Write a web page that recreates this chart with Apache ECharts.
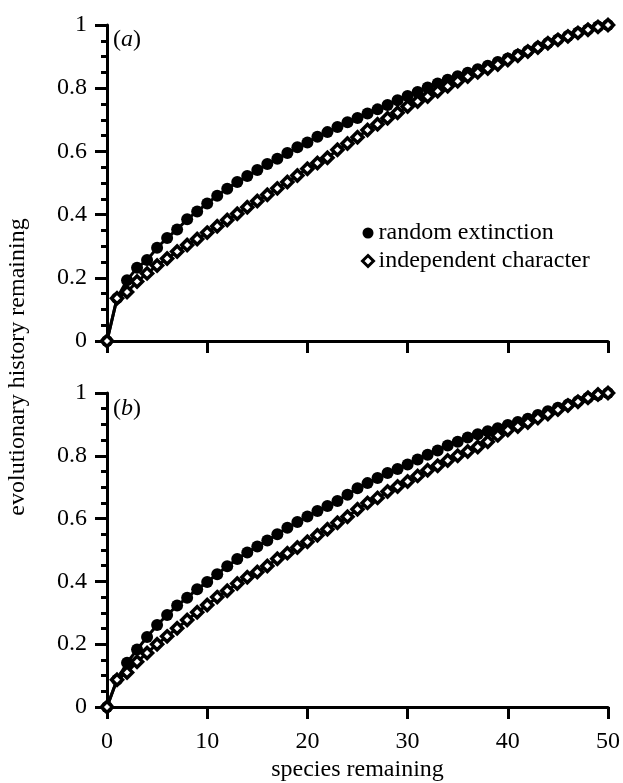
<!DOCTYPE html>
<html>
<head>
<meta charset="utf-8">
<script src="https://cdn.jsdelivr.net/npm/echarts/dist/echarts.min.js"></script>
<style>
  html, body { margin: 0; padding: 0; background: #fff; }
  #chart { width: 623px; height: 783px; }
</style>
</head>
<body>
<div id="chart"></div>
<script>
// species remaining (x)
const species = [0, 1, 2, 3, 4, 5, 6, 7, 8, 9, 10, 11, 12, 13, 14, 15, 16, 17, 18, 19, 20,
  21, 22, 23, 24, 25, 26, 27, 28, 29, 30, 31, 32, 33, 34, 35, 36, 37, 38, 39, 40,
  41, 42, 43, 44, 45, 46, 47, 48, 49, 50];

// panel (a)
const randomA = [0, 0.135, 0.192, 0.232, 0.256, 0.295, 0.326, 0.353, 0.385, 0.41, 0.435,
  0.46, 0.482, 0.503, 0.522, 0.541, 0.56, 0.577, 0.595, 0.613, 0.628,
  0.646, 0.661, 0.677, 0.692, 0.706, 0.72, 0.733, 0.747, 0.762, 0.775,
  0.788, 0.802, 0.815, 0.827, 0.838, 0.849, 0.86, 0.871, 0.883, 0.894,
  0.906, 0.918, 0.93, 0.943, 0.954, 0.965, 0.976, 0.986, 0.995, 1];
const independentA = [0, 0.135, 0.155, 0.188, 0.214, 0.239, 0.261, 0.283, 0.304, 0.323, 0.343,
  0.363, 0.383, 0.403, 0.423, 0.443, 0.463, 0.483, 0.503, 0.524, 0.545,
  0.563, 0.58, 0.605, 0.625, 0.645, 0.668, 0.686, 0.705, 0.722, 0.742,
  0.758, 0.774, 0.79, 0.806, 0.822, 0.837, 0.85, 0.862, 0.875, 0.889,
  0.903, 0.916, 0.929, 0.942, 0.953, 0.964, 0.975, 0.985, 0.994, 1];

// panel (b)
const randomB = [0, 0.087, 0.141, 0.183, 0.223, 0.261, 0.293, 0.323, 0.348, 0.375, 0.398,
  0.423, 0.448, 0.471, 0.492, 0.511, 0.53, 0.55, 0.571, 0.589, 0.607,
  0.624, 0.64, 0.656, 0.676, 0.697, 0.713, 0.729, 0.745, 0.758, 0.772,
  0.788, 0.803, 0.817, 0.833, 0.845, 0.858, 0.869, 0.878, 0.888, 0.898,
  0.908, 0.918, 0.93, 0.942, 0.953, 0.963, 0.974, 0.985, 0.994, 1];
const independentB = [0, 0.087, 0.11, 0.144, 0.172, 0.2, 0.225, 0.251, 0.277, 0.302, 0.325,
  0.35, 0.37, 0.393, 0.413, 0.43, 0.449, 0.472, 0.49, 0.508, 0.526,
  0.547, 0.566, 0.587, 0.606, 0.63, 0.65, 0.666, 0.686, 0.702, 0.718,
  0.736, 0.754, 0.768, 0.785, 0.8, 0.814, 0.828, 0.845, 0.865, 0.882,
  0.893, 0.906, 0.92, 0.933, 0.947, 0.96, 0.972, 0.985, 0.995, 1];

const seriesNames = ['random extinction', 'independent character'];
const panelLabels = ['a', 'b'];

const FONT = 'Liberation Serif';

function pairs(ys) {
  return species.map((x, i) => [x, ys[i]]);
}

function xAxisFor(idx, showLabels) {
  return {
    type: 'value', gridIndex: idx, min: 0, max: 50, interval: 10,
    axisLine: { lineStyle: { color: '#000', width: 3 } },
    axisTick: { inside: false, length: 12, lineStyle: { color: '#000', width: 3 } },
    axisLabel: { show: showLabels, color: '#000', fontFamily: FONT, fontSize: 24, margin: 23 },
    splitLine: { show: false },
    name: showLabels ? 'species remaining' : '',
    nameLocation: 'middle', nameGap: 51,
    nameTextStyle: { color: '#000', fontFamily: FONT, fontSize: 24 }
  };
}

function yAxisFor(idx) {
  return {
    type: 'value', gridIndex: idx, min: 0, max: 1, interval: 0.2,
    axisLine: { show: true, lineStyle: { color: '#000', width: 3 } },
    axisTick: { inside: false, length: 12, lineStyle: { color: '#000', width: 3 } },
    minorTick: { show: true, splitNumber: 4, length: 6, lineStyle: { color: '#000', width: 3 } },
    axisLabel: { color: '#000', fontFamily: FONT, fontSize: 24, margin: 20 },
    splitLine: { show: false }
  };
}

function circleSeries(idx, ys) {
  return {
    name: seriesNames[0], type: 'line', xAxisIndex: idx, yAxisIndex: idx,
    data: pairs(ys), symbol: 'circle', symbolSize: 12, showAllSymbol: true,
    lineStyle: { color: '#000', width: 3 },
    itemStyle: { color: '#000' },
    clip: false, emphasis: { disabled: true }
  };
}

function diamondSeries(idx, ys) {
  return {
    name: seriesNames[1], type: 'line', xAxisIndex: idx, yAxisIndex: idx,
    data: pairs(ys), symbol: 'diamond', symbolSize: 11, showAllSymbol: true,
    lineStyle: { color: '#000', width: 3 },
    itemStyle: { color: '#fff', borderColor: '#000', borderWidth: 3.5 },
    clip: false, emphasis: { disabled: true }
  };
}

const chart = echarts.init(document.getElementById('chart'));
chart.setOption({
  animation: false,
  backgroundColor: '#fff',
  grid: [
    { left: 107, right: 15, top: 25, height: 316 },
    { left: 107, right: 15, top: 393, height: 316 }
  ],
  xAxis: [xAxisFor(0, false), xAxisFor(1, true)],
  yAxis: [yAxisFor(0), yAxisFor(1)],
  legend: {
    orient: 'vertical', left: 361, top: 221, padding: 0, itemGap: 4,
    itemWidth: 11, itemHeight: 11,
    textStyle: { color: '#000', fontFamily: FONT, fontSize: 24, lineHeight: 24 },
    data: [
      { name: seriesNames[0], icon: 'circle', itemStyle: { color: '#000' } },
      { name: seriesNames[1], icon: 'diamond', itemStyle: { color: '#fff', borderColor: '#000', borderWidth: 3 } }
    ]
  },
  graphic: [
    {
      type: 'text', x: 18, y: 367, rotation: Math.PI / 2,
      style: {
        text: 'evolutionary history remaining', fill: '#000',
        fontFamily: FONT, fontSize: 24,
        textAlign: 'center', textVerticalAlign: 'middle'
      }
    },
    {
      type: 'text', left: 113, top: 28,
      style: {
        text: '({i|' + panelLabels[0] + '})', fill: '#000',
        fontFamily: FONT, fontSize: 24,
        rich: { i: { fontStyle: 'italic', fontFamily: FONT, fontSize: 24 } }
      }
    },
    {
      type: 'text', left: 113, top: 397,
      style: {
        text: '({i|' + panelLabels[1] + '})', fill: '#000',
        fontFamily: FONT, fontSize: 24,
        rich: { i: { fontStyle: 'italic', fontFamily: FONT, fontSize: 24 } }
      }
    }
  ],
  series: [
    circleSeries(0, randomA),
    diamondSeries(0, independentA),
    circleSeries(1, randomB),
    diamondSeries(1, independentB)
  ]
});
</script>
</body>
</html>
